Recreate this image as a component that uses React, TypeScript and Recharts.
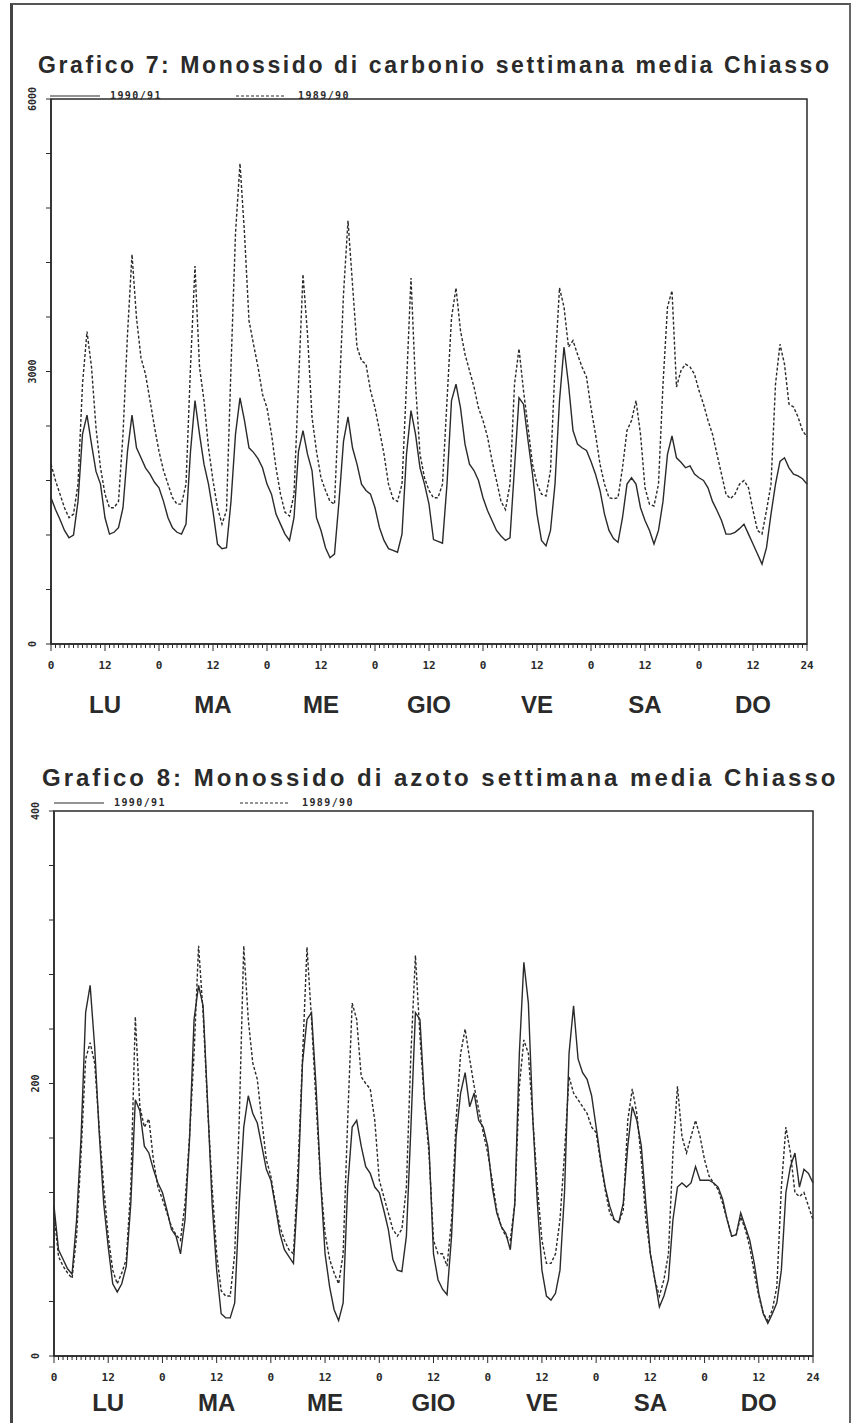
import React from "react";
import { LineChart, Line, XAxis, YAxis, ReferenceArea } from "recharts";

const DAYS = ["LU", "MA", "ME", "GIO", "VE", "SA", "DO"];
const SERIES = ["1990/91", "1989/90"];
const HOURS = Array.from({ length: 169 }, (_, i) => i);
const HOUR_LABELS = HOURS.map((h) => (h === 168 ? "24" : h % 24 === 0 ? "0" : h % 12 === 0 ? "12" : ""));

const CO_TICKS = [0, 600, 1200, 1800, 2400, 3000, 3600, 4200, 4800, 5400, 6000];
const CO_LABELS = [0, 3000, 6000];
const NO_TICKS = [0, 40, 80, 120, 160, 200, 240, 280, 320, 360, 400];
const NO_LABELS = [0, 200, 400];

// Grafico 7 - monossido di carbonio, one line per day (LU..DO), hourly
const CO_9091 = [
  1610, 1480, 1370, 1250, 1170, 1200, 1570, 2310, 2520, 2200, 1900, 1760, 1390, 1210, 1230, 1280, 1500, 2120, 2520, 2160, 2050, 1940, 1870, 1780,
  1720, 1570, 1390, 1280, 1230, 1210, 1320, 2120, 2680, 2310, 1980, 1760, 1460, 1100, 1050, 1060, 1570, 2310, 2710, 2460, 2160, 2110, 2040, 1940,
  1760, 1650, 1430, 1320, 1210, 1140, 1390, 2120, 2350, 2090, 1910, 1390, 1250, 1060, 950, 990, 1570, 2230, 2500, 2160, 1980, 1760, 1690, 1650,
  1500, 1280, 1140, 1050, 1030, 1010, 1210, 2090, 2570, 2310, 1940, 1760, 1540, 1150, 1130, 1110, 1760, 2680, 2860, 2600, 2200, 1980, 1910, 1800,
  1610, 1470, 1360, 1250, 1190, 1140, 1170, 1940, 2710, 2640, 2240, 1870, 1430, 1140, 1080, 1250, 1760, 2680, 3270, 2860, 2350, 2200, 2160, 2130,
  2010, 1870, 1690, 1430, 1250, 1160, 1120, 1390, 1760, 1830, 1760, 1500, 1360, 1250, 1100, 1250, 1570, 2090, 2290, 2050, 2000, 1940, 1960, 1870,
  1830, 1800, 1720, 1570, 1470, 1360, 1210, 1210, 1230, 1270, 1320, 1210, 1100, 990, 880, 1060, 1430, 1760, 2010, 2050, 1940, 1870, 1850, 1820,
  1760,
];
const CO_8990 = [
  1980, 1800, 1650, 1500, 1390, 1430, 1760, 2860, 3440, 3050, 2380, 1940, 1650, 1500, 1500, 1570, 2310, 3410, 4290, 3590, 3150, 2970, 2680, 2390,
  2120, 1910, 1760, 1610, 1540, 1540, 1760, 3050, 4160, 3050, 2680, 2160, 1800, 1500, 1320, 1470, 3050, 4520, 5290, 4520, 3560, 3300, 3050, 2750,
  2600, 2310, 1940, 1650, 1450, 1410, 1650, 2860, 4070, 3410, 2500, 2120, 1830, 1690, 1570, 1540, 2680, 3850, 4660, 3960, 3270, 3120, 3080, 2790,
  2600, 2350, 2090, 1760, 1600, 1570, 1760, 2860, 4030, 2860, 2090, 1830, 1690, 1610, 1610, 1760, 2680, 3590, 3920, 3450, 3190, 3010, 2830, 2600,
  2460, 2280, 2020, 1800, 1570, 1480, 1760, 2860, 3250, 2790, 2390, 1980, 1760, 1650, 1630, 1910, 3050, 3920, 3710, 3270, 3340, 3190, 3050, 2940,
  2600, 2310, 1980, 1760, 1610, 1600, 1610, 1940, 2350, 2460, 2680, 2310, 1720, 1540, 1520, 1760, 2860, 3710, 3890, 2830, 3010, 3080, 3050, 2970,
  2790, 2640, 2460, 2310, 2090, 1870, 1650, 1600, 1650, 1760, 1800, 1720, 1470, 1250, 1210, 1470, 1760, 2860, 3300, 3080, 2640, 2610, 2500, 2350,
  2280,
];

// Grafico 8 - monossido di azoto
const NO_9091 = [
  110, 78, 71, 64, 60, 100, 161, 252, 272, 227, 164, 112, 80, 53, 47, 53, 66, 112, 188, 180, 154, 149, 137, 127,
  120, 107, 93, 88, 75, 100, 159, 247, 272, 257, 186, 112, 63, 31, 28, 28, 39, 112, 168, 191, 178, 171, 154, 137,
  129, 110, 90, 78, 73, 68, 124, 215, 247, 252, 198, 129, 75, 51, 34, 26, 39, 124, 168, 173, 154, 139, 134, 124,
  120, 107, 93, 71, 63, 62, 88, 168, 252, 247, 188, 154, 75, 56, 49, 45, 88, 161, 193, 208, 183, 193, 173, 168,
  154, 124, 105, 95, 90, 78, 112, 222, 289, 259, 173, 112, 63, 44, 41, 46, 63, 120, 222, 257, 218, 208, 203, 191,
  168, 144, 124, 110, 100, 98, 112, 154, 183, 173, 154, 112, 75, 56, 36, 44, 56, 100, 124, 127, 124, 127, 139, 129,
  129, 129, 127, 124, 115, 100, 88, 89, 105, 95, 85, 68, 46, 31, 24, 31, 39, 63, 120, 139, 149, 124, 137, 134,
  127,
];
const NO_8990 = [
  105, 73, 66, 61, 57, 88, 149, 218, 230, 215, 168, 124, 88, 63, 53, 61, 71, 124, 249, 183, 168, 174, 144, 124,
  115, 105, 95, 89, 85, 112, 161, 222, 301, 252, 183, 124, 75, 48, 44, 44, 75, 173, 301, 247, 215, 203, 173, 144,
  132, 112, 95, 85, 78, 75, 137, 218, 300, 247, 186, 129, 90, 71, 61, 53, 75, 173, 259, 247, 205, 200, 196, 173,
  129, 117, 105, 93, 88, 93, 124, 222, 294, 235, 186, 149, 85, 75, 75, 66, 100, 173, 222, 240, 218, 198, 181, 164,
  149, 129, 107, 95, 88, 85, 112, 198, 232, 222, 173, 124, 85, 68, 68, 75, 100, 149, 205, 193, 188, 183, 178, 168,
  164, 142, 122, 105, 100, 98, 107, 173, 196, 178, 144, 100, 75, 56, 44, 56, 75, 149, 198, 161, 149, 161, 173, 161,
  144, 132, 127, 122, 112, 100, 88, 89, 102, 93, 80, 61, 44, 31, 26, 34, 51, 124, 168, 149, 120, 117, 120, 110,
  100,
];

const INK = "#2a2a2a";
const MONO = "'DejaVu Sans Mono', monospace";
const SANS = "'Liberation Sans', Arial, sans-serif";

// bottom axis: hourly ticks, 0/12 labels, day names under noon
const makeHourTick = (dayOffset: number) => (props: any) => {
  const { x, y, payload } = props;
  const h = payload.value as number;
  const major = h % 12 === 0;
  return (
    <g>
      <line x1={x} y1={y} x2={x} y2={y + (major ? 7 : 4)} stroke={INK} strokeWidth={1} />
      {HOUR_LABELS[h] && (
        <text x={x} y={y + 25} textAnchor="middle" fontSize={11} fontWeight="bold" fontFamily={MONO} fill={INK}>
          {HOUR_LABELS[h]}
        </text>
      )}
      {h % 24 === 12 && (
        <text x={x} y={y + dayOffset} textAnchor="middle" fontSize={24} fontWeight="bold" fontFamily={SANS} fill={INK}>
          {DAYS[Math.floor(h / 24)]}
        </text>
      )}
    </g>
  );
};

// left axis: short ticks, rotated labels on a few of them
const makeValueTick = (labels: number[]) => (props: any) => {
  const { x, y, payload } = props;
  const cx = x - 14;
  return (
    <g>
      <line x1={x} y1={y} x2={x + 5} y2={y} stroke={INK} strokeWidth={1} />
      {labels.includes(payload.value) && (
        <text
          x={cx}
          y={y}
          transform={`rotate(-90 ${cx} ${y})`}
          textAnchor="middle"
          dominantBaseline="central"
          fontSize={10}
          fontWeight="bold"
          fontFamily={MONO}
          fill={INK}
        >
          {payload.value}
        </text>
      )}
    </g>
  );
};

interface WeekChartProps {
  top: number;
  height: number;
  margin: { top: number; right: number; bottom: number; left: number };
  yMax: number;
  yTicks: number[];
  yLabels: number[];
  recent: number[];
  previous: number[];
  dayOffset: number;
}

const WeekChart = ({ top, height, margin, yMax, yTicks, yLabels, recent, previous, dayOffset }: WeekChartProps) => {
  const data = HOURS.map((h) => ({ h, recent: recent[h], previous: previous[h] }));
  return (
    <div style={{ position: "absolute", left: 0, top }}>
      <LineChart width={856} height={height} data={data} margin={margin}>
        <XAxis
          dataKey="h"
          type="number"
          domain={[0, 168]}
          ticks={HOURS}
          interval={0}
          height={1}
          tickSize={0}
          tickMargin={0}
          tickLine={false}
          axisLine={{ stroke: INK, strokeWidth: 1.5 }}
          tick={makeHourTick(dayOffset)}
        />
        <YAxis
          type="number"
          domain={[0, yMax]}
          ticks={yTicks}
          interval={0}
          width={1}
          tickSize={5}
          tickMargin={0}
          tickLine={false}
          axisLine={{ stroke: INK, strokeWidth: 1.5 }}
          tick={makeValueTick(yLabels)}
        />
        <ReferenceArea x1={0} x2={168} y1={0} y2={yMax} fill="none" stroke={INK} strokeWidth={1.5} />
        <Line
          type="linear"
          dataKey="previous"
          name={SERIES[1]}
          stroke={INK}
          strokeWidth={1.4}
          strokeDasharray="3 2"
          dot={false}
          isAnimationActive={false}
        />
        <Line
          type="linear"
          dataKey="recent"
          name={SERIES[0]}
          stroke={INK}
          strokeWidth={1.4}
          dot={false}
          isAnimationActive={false}
        />
      </LineChart>
    </div>
  );
};

const LegendRow = ({ x, y }: { x: number; y: number }) => (
  <g fontFamily={MONO} fontSize={10} fontWeight="bold" fill={INK} letterSpacing={1.4}>
    <line x1={x} y1={y} x2={x + 50} y2={y} stroke={INK} strokeWidth={1.2} />
    <text x={x + 60} y={y + 3}>{SERIES[0]}</text>
    <line x1={x + 186} y1={y} x2={x + 236} y2={y} stroke={INK} strokeWidth={1.2} strokeDasharray="3 2" />
    <text x={x + 248} y={y + 3}>{SERIES[1]}</text>
  </g>
);

export default function App() {
  return (
    <div style={{ position: "absolute", left: 0, top: 0, width: 856, height: 1423, background: "#fff", overflow: "hidden" }}>
      <div
        style={{
          position: "absolute",
          left: 10,
          top: 3,
          width: 836,
          height: 1440,
          borderLeft: "3px solid #444",
          borderTop: "2px solid #555",
          borderRight: "2px solid #666",
        }}
      />
      <WeekChart
        top={0}
        height={720}
        margin={{ top: 99, right: 49, bottom: 75, left: 50 }}
        yMax={6000}
        yTicks={CO_TICKS}
        yLabels={CO_LABELS}
        recent={CO_9091}
        previous={CO_8990}
        dayOffset={69}
      />
      <WeekChart
        top={700}
        height={723}
        margin={{ top: 111, right: 43, bottom: 66, left: 53 }}
        yMax={400}
        yTicks={NO_TICKS}
        yLabels={NO_LABELS}
        recent={NO_9091}
        previous={NO_8990}
        dayOffset={55}
      />
      <svg width={856} height={1423} style={{ position: "absolute", left: 0, top: 0, pointerEvents: "none" }}>
        <text x={38} y={73} fontFamily={SANS} fontWeight="bold" fontSize={23} letterSpacing={2.6} fill={INK}>
          Grafico 7: Monossido di carbonio settimana media Chiasso
        </text>
        <LegendRow x={50} y={96} />
        <text x={42} y={786} fontFamily={SANS} fontWeight="bold" fontSize={24} letterSpacing={3} fill={INK}>
          Grafico 8: Monossido di azoto settimana media Chiasso
        </text>
        <LegendRow x={54} y={803} />
      </svg>
    </div>
  );
}
